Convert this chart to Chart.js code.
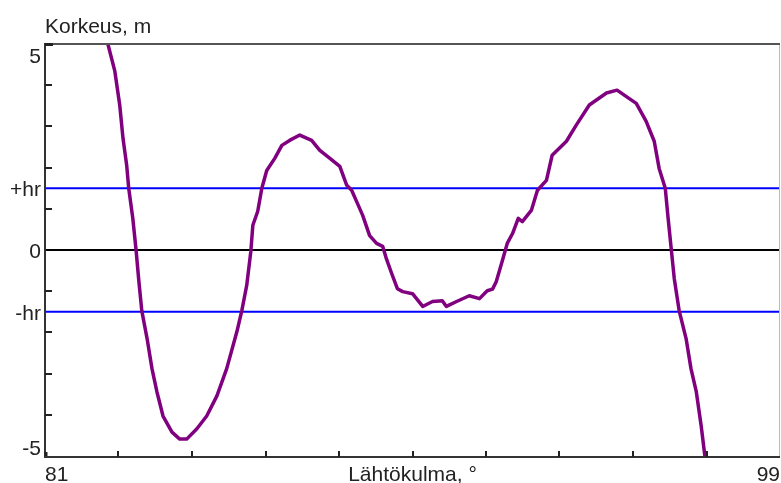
<!DOCTYPE html>
<html>
<head>
<meta charset="utf-8">
<script src="https://cdn.jsdelivr.net/npm/chart.js@4/dist/chart.umd.min.js"></script>
<style>
  html, body { margin: 0; padding: 0; background: #ffffff; }
  #wrap { width: 781px; height: 483px; position: relative; }
</style>
</head>
<body>
<div id="wrap"><canvas id="c" width="781" height="483"></canvas></div>
<script>
// ---- Data ----
const angles = [82.54, 82.71, 82.83, 82.91, 83.00, 83.05, 83.15, 83.23, 83.30, 83.37,
  83.50, 83.62, 83.74, 83.89, 84.11, 84.30, 84.47, 84.72, 84.96, 85.21,
  85.45, 85.70, 85.82, 85.94, 86.04, 86.09, 86.21, 86.31, 86.43, 86.63,
  86.80, 86.99, 87.24, 87.53, 87.73, 87.97, 88.22, 88.39, 88.51, 88.63,
  88.78, 88.95, 89.12, 89.27, 89.36, 89.49, 89.63, 89.76, 90.00, 90.25,
  90.49, 90.73, 90.83, 91.08, 91.39, 91.64, 91.83, 91.96, 92.05, 92.20,
  92.32, 92.45, 92.59, 92.69, 92.91, 93.06, 93.28, 93.42, 93.77, 94.01,
  94.33, 94.75, 95.01, 95.23, 95.48, 95.72, 95.92, 96.04, 96.19, 96.26,
  96.34, 96.41, 96.53, 96.70, 96.82, 96.95, 97.07, 97.16];
const heights = [5.00, 4.34, 3.52, 2.71, 2.06, 1.50, 0.77, 0.00, -0.77, -1.47,
  -2.15, -2.88, -3.44, -4.03, -4.42, -4.59, -4.59, -4.34, -4.03, -3.54,
  -2.88, -1.98, -1.47, -0.86, -0.04, 0.60, 0.94, 1.50, 1.93, 2.23,
  2.54, 2.66, 2.79, 2.66, 2.42, 2.23, 2.03, 1.57, 1.45, 1.18,
  0.84, 0.35, 0.16, 0.09, -0.21, -0.57, -0.94, -1.01, -1.06, -1.37,
  -1.25, -1.23, -1.37, -1.25, -1.11, -1.18, -0.99, -0.95, -0.77, -0.26,
  0.16, 0.40, 0.77, 0.69, 0.96, 1.45, 1.69, 2.30, 2.64, 3.03,
  3.52, 3.81, 3.88, 3.73, 3.56, 3.13, 2.64, 1.98, 1.50, 0.77,
  -0.01, -0.69, -1.47, -2.15, -2.88, -3.44, -4.27, -5.00];
const xMin = 81, xMax = 99;
const yMin = -5, yMax = 5;
const hrLevel = 1.5;
const yTickValues = [5, 1.5, 0, -1.5, -5];
const yTickLabels = ['5', '+hr', '0', '-hr', '-5'];
const yMinorTicks = [-4, -3, -2, -1, 1, 2, 3, 4];
const xMinorTicks = [82.8, 84.6, 86.4, 88.2, 90.0, 91.8, 93.6, 95.4, 97.2];
const xTickLabels = ['81', '99'];
const yTitle = 'Korkeus, m';
const xTitle = 'Lähtökulma, °';

const curve = angles.map((a, i) => ({ x: a, y: heights[i] }));
const levelLine = v => [{ x: xMin, y: v }, { x: xMax, y: v }];

const FONT = '21px "Liberation Sans", Arial, sans-serif';

const decor = {
  id: 'decor',
  afterDraw(chart) {
    const ctx = chart.ctx;
    const xs = chart.scales.x, ys = chart.scales.y;
    const L = xs.getPixelForValue(xMin), R = xs.getPixelForValue(xMax);
    const T = ys.getPixelForValue(yMax), B = ys.getPixelForValue(yMin);
    ctx.save();
    // frame
    ctx.lineCap = 'butt';
    ctx.strokeStyle = '#bbbbbb'; ctx.lineWidth = 1;
    ctx.beginPath(); ctx.moveTo(R - 0.5, T); ctx.lineTo(R - 0.5, B); ctx.stroke();
    ctx.strokeStyle = '#555555'; ctx.lineWidth = 2;
    ctx.beginPath(); ctx.moveTo(L, T); ctx.lineTo(R, T); ctx.stroke();
    ctx.strokeStyle = '#333333'; ctx.lineWidth = 2;
    ctx.beginPath(); ctx.moveTo(L, T - 1); ctx.lineTo(L, B + 1); ctx.lineTo(R, B + 1); ctx.stroke();
    // ticks
    ctx.strokeStyle = '#222222'; ctx.lineWidth = 2;
    yMinorTicks.forEach(v => {
      const p = Math.round(ys.getPixelForValue(v));
      ctx.beginPath(); ctx.moveTo(L, p); ctx.lineTo(L + 7, p); ctx.stroke();
    });
    ctx.lineWidth = 3;
    ctx.beginPath(); ctx.moveTo(L, T + 0.5); ctx.lineTo(L + 8, T + 0.5); ctx.stroke();
    ctx.beginPath(); ctx.moveTo(L + 1, B); ctx.lineTo(L + 1, B - 4); ctx.stroke();
    ctx.lineWidth = 2;
    xMinorTicks.forEach(v => {
      const p = Math.round(xs.getPixelForValue(v));
      ctx.beginPath(); ctx.moveTo(p, B + 1); ctx.lineTo(p, B - 5); ctx.stroke();
    });
    // texts
    ctx.fillStyle = '#222222';
    ctx.font = FONT;
    ctx.textBaseline = 'alphabetic';
    ctx.textAlign = 'left';
    ctx.fillText(yTitle, L, 33);
    ctx.textAlign = 'right';
    yTickValues.forEach((v, i) => {
      let base;
      if (v === yMax) base = T + 19;
      else if (v === yMin) base = B - 1;
      else base = ys.getPixelForValue(v) + 8;
      ctx.fillText(yTickLabels[i], L - 4, base);
    });
    ctx.textAlign = 'left';
    ctx.fillText(xTickLabels[0], L, 481);
    ctx.textAlign = 'right';
    ctx.fillText(xTickLabels[1], R, 481);
    ctx.textAlign = 'center';
    ctx.fillText(xTitle, (L + R) / 2, 481);
    ctx.restore();
  }
};

new Chart(document.getElementById('c'), {
  type: 'line',
  data: {
    datasets: [
      { data: curve, borderColor: '#800080', borderWidth: 3.5, pointRadius: 0, tension: 0, borderJoinStyle: 'round', borderCapStyle: 'round' },
      { data: levelLine(hrLevel), borderColor: '#0000ff', borderWidth: 2, pointRadius: 0 },
      { data: levelLine(-hrLevel), borderColor: '#0000ff', borderWidth: 2, pointRadius: 0 },
      { data: levelLine(0), borderColor: '#000000', borderWidth: 2, pointRadius: 0 }
    ]
  },
  options: {
    responsive: false,
    devicePixelRatio: 1,
    animation: false,
    events: [],
    layout: { padding: { left: 45, top: 44, right: 1, bottom: 27 } },
    plugins: { legend: { display: false }, tooltip: { enabled: false } },
    scales: {
      x: { type: 'linear', min: xMin, max: xMax, display: false },
      y: { type: 'linear', min: yMin, max: yMax, display: false }
    }
  },
  plugins: [decor]
});
</script>
</body>
</html>
